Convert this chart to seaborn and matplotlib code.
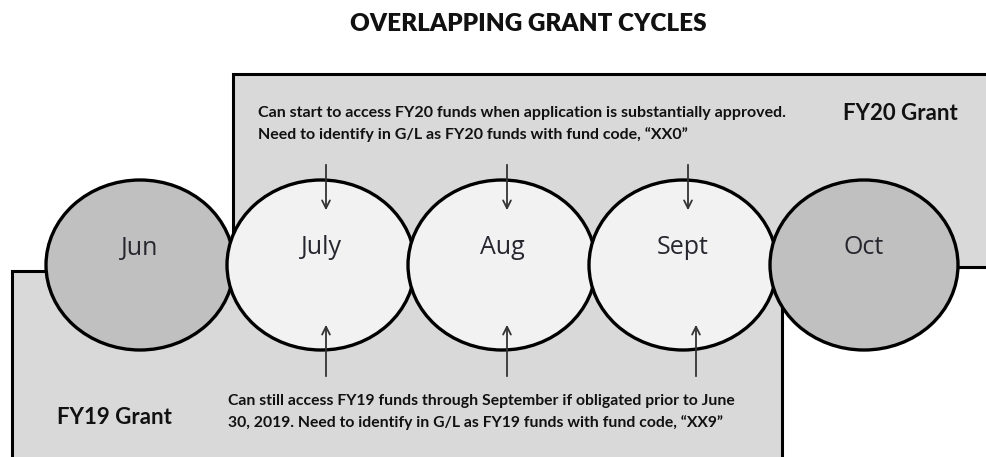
import matplotlib
matplotlib.use("Agg")
import matplotlib.pyplot as plt
from matplotlib.patches import Ellipse, Rectangle
import seaborn as sns

# ---- data ----
months = ["Jun", "July", "Aug", "Sept", "Oct"]
month_kind = ["outer", "overlap", "overlap", "overlap", "outer"]
grants = ["FY20 Grant", "FY19 Grant"]
fy20_note = ("Can start to access FY20 funds when application is substantially approved.\n"
             "Need to identify in G/L as FY20 funds with fund code, \u201cXX0\u201d")
fy19_note = ("Can still access FY19 funds through September if obligated prior to June\n"
             "30, 2019. Need to identify in G/L as FY19 funds with fund code, \u201cXX9\u201d")
title = "OVERLAPPING GRANT CYCLES"

sns.set_theme(style="white")
plt.rcParams["font.family"] = ["Lato", "DejaVu Sans"]

W, H = 986, 457
fig = plt.figure(figsize=(W / 100, H / 100), dpi=100)
ax = fig.add_axes([0, 0, 1, 1])
ax.set_xlim(0, W)
ax.set_ylim(H, 0)
ax.axis("off")

box_fill = "#d9d9d9"
fills = {"outer": "#c0c0c0", "overlap": "#f2f2f2"}
x0, step, cy = 140, 181, 265
ew, eh = 188, 170

def cx(i):
    return x0 + step * i

# grant boxes
ax.add_patch(Rectangle((233, 74), 800, 193, facecolor=box_fill,
                       edgecolor="black", lw=2.2, zorder=1))
ax.add_patch(Rectangle((12, 271), 770, 250, facecolor=box_fill,
                       edgecolor="black", lw=2.2, zorder=1.5))

# month circles
for i, (m, k) in enumerate(zip(months, month_kind)):
    ax.add_patch(Ellipse((cx(i), cy), ew, eh, facecolor=fills[k],
                         edgecolor="black", lw=2.4, zorder=3))
    ax.text(cx(i), 248, m, ha="center", va="center", fontsize=18,
            family=["Open Sans", "DejaVu Sans"],
            color="#26262f", zorder=4)

# arrows for overlapping months
for i, k in enumerate(month_kind):
    if k != "overlap":
        continue
    x = cx(i) + 5
    ax.annotate("", xy=(x, 213), xytext=(x, 162),
                arrowprops=dict(arrowstyle="->", color="#333333", lw=1.3,
                                mutation_scale=14), zorder=5)
    xb = x + (8 if i == 3 else 0)
    ax.annotate("", xy=(xb, 322), xytext=(xb, 379),
                arrowprops=dict(arrowstyle="->", color="#333333", lw=1.3,
                                mutation_scale=14), zorder=5)

# texts
ax.text(528, 24, title, ha="center", va="center", fontsize=17.5,
        fontweight="heavy", color="#111111")
ax.text(258, 124, fy20_note, ha="left", va="center", fontsize=11.5,
        fontweight="bold", color="#111111", linespacing=1.6)
ax.text(228, 412, fy19_note, ha="left", va="center", fontsize=11.3,
        fontweight="bold", color="#111111", linespacing=1.6)
ax.text(900, 113, grants[0], ha="center", va="center", fontsize=16,
        fontweight="bold", color="#111111")
ax.text(114, 418, grants[1], ha="center", va="center", fontsize=16,
        fontweight="bold", color="#111111")

fig.savefig("out.png", dpi=100)
